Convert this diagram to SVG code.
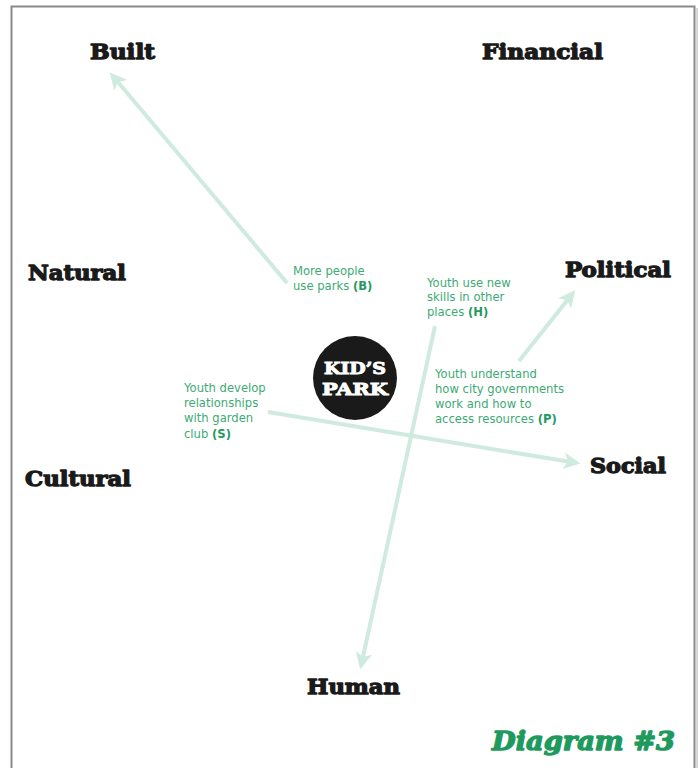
<svg xmlns="http://www.w3.org/2000/svg" width="699" height="768" viewBox="0 0 699 768">
<defs>
<style>
.cap{font-family:"DejaVu Serif","Liberation Serif",serif;font-weight:bold;font-size:21px;fill:#1a1a1a;stroke:#1a1a1a;stroke-width:1.3;stroke-linejoin:round}
.note{font-family:"DejaVu Sans","Lato",sans-serif;font-size:11.6px;fill:#3daa74}
.note tspan.b{font-weight:bold;fill:#259a5f}
.conn{stroke:#cfeadf;stroke-width:4;fill:none;marker-end:url(#ah)}
.hub{font-family:"DejaVu Serif",serif;font-weight:bold;font-size:16px;fill:#fff;stroke:#fff;stroke-width:0.9;text-anchor:middle}
</style>
<marker id="ah" viewBox="0 0 10 10" refX="8" refY="5" markerWidth="4.2" markerHeight="4.2" orient="auto" markerUnits="strokeWidth">
<path d="M0,0 L10,5 L0,10 L2.5,5 Z" fill="#cfeadf"/>
</marker>
</defs>
<rect width="699" height="768" fill="#fff"/>
<path d="M11.5,768 V6.5 H694.5 V768" fill="none" stroke="#8a8a8a" stroke-width="2"/>
<path d="M697,8 V768" stroke="#d8d8d8" stroke-width="2"/>
<g id="connectors">
<line class="conn" x1="287" y1="283" x2="112" y2="75"/>
<line class="conn" x1="435" y1="326" x2="361" y2="666"/>
<line class="conn" x1="519" y1="361" x2="573" y2="293"/>
<line class="conn" x1="268" y1="412" x2="577" y2="463"/>
</g>
<g id="hub">
<circle cx="355" cy="378" r="42" fill="#1a1a1a"/>
<text class="hub" x="355" y="374" textLength="62" lengthAdjust="spacingAndGlyphs">KID’S</text>
<text class="hub" x="355" y="395" textLength="66" lengthAdjust="spacingAndGlyphs">PARK</text>
</g>
<g id="built"><text class="cap" x="90" y="59" textLength="65" lengthAdjust="spacingAndGlyphs">Built</text></g>
<g id="financial"><text class="cap" x="482" y="59" textLength="121" lengthAdjust="spacingAndGlyphs">Financial</text></g>
<g id="natural"><text class="cap" x="28" y="280" textLength="98" lengthAdjust="spacingAndGlyphs">Natural</text></g>
<g id="political"><text class="cap" x="565" y="277" textLength="106" lengthAdjust="spacingAndGlyphs">Political</text></g>
<g id="cultural"><text class="cap" x="25" y="486" textLength="106" lengthAdjust="spacingAndGlyphs">Cultural</text></g>
<g id="social"><text class="cap" x="590" y="473" textLength="76" lengthAdjust="spacingAndGlyphs">Social</text></g>
<g id="human"><text class="cap" x="307" y="694" textLength="93" lengthAdjust="spacingAndGlyphs">Human</text></g>
<g id="note-b"><text class="note" x="293" y="275">More people</text><text class="note" x="293" y="290">use parks <tspan class="b">(B)</tspan></text></g>
<g id="note-h"><text class="note" x="427" y="287">Youth use new</text><text class="note" x="427" y="301">skills in other</text><text class="note" x="427" y="316">places <tspan class="b">(H)</tspan></text></g>
<g id="note-p"><text class="note" x="435" y="378">Youth understand</text><text class="note" x="435" y="393">how city governments</text><text class="note" x="435" y="408">work and how to</text><text class="note" x="435" y="423">access resources <tspan class="b">(P)</tspan></text></g>
<g id="note-s"><text class="note" x="184" y="392">Youth develop</text><text class="note" x="184" y="407">relationships</text><text class="note" x="184" y="422">with garden</text><text class="note" x="184" y="438">club <tspan class="b">(S)</tspan></text></g>
<g id="title"><text x="492" y="750" font-family="DejaVu Serif,serif" font-weight="bold" font-style="italic" font-size="26" fill="#1f9a5e" stroke="#1f9a5e" stroke-width="1.4" stroke-linejoin="round" textLength="183" lengthAdjust="spacingAndGlyphs">Diagram #3</text></g>
</svg>
